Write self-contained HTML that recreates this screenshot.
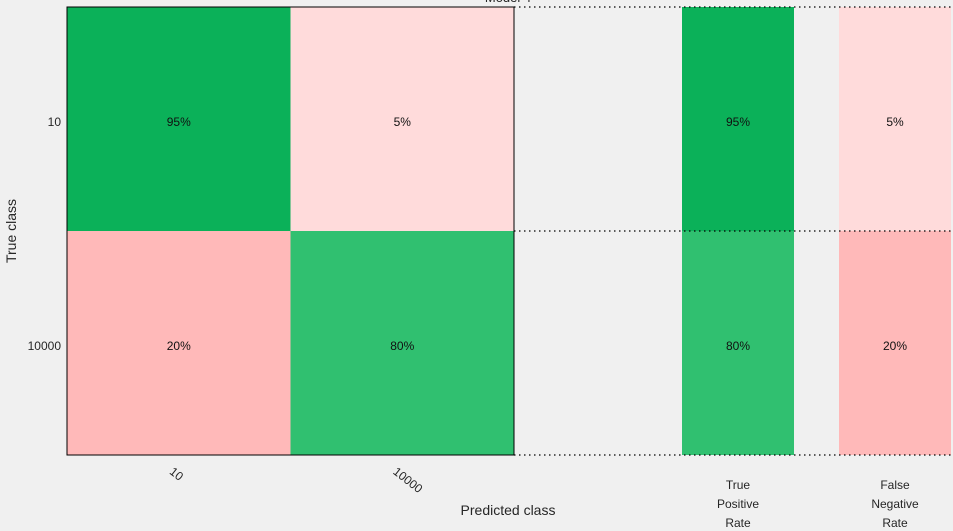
<!DOCTYPE html>
<html><head><meta charset="utf-8"><style>
body{margin:0;background:#f0f0f0;}
svg{display:block;font-family:"Liberation Sans",Arial,sans-serif;}
</style></head><body>
<svg width="953" height="531" viewBox="0 0 953 531">
<rect width="953" height="531" fill="#f0f0f0"/>
<g id="g"></g>
<text x="508" y="2" text-anchor="middle" font-size="13" fill="#222">Model 4</text>
<text x="508" y="515" text-anchor="middle" font-size="14" fill="#262626">Predicted class</text>
<text transform="translate(16,231) rotate(-90)" text-anchor="middle" font-size="14" fill="#262626">True class</text>
<text x="738" y="489" text-anchor="middle" font-size="12" fill="#262626"><tspan x="738">True</tspan><tspan x="738" dy="19">Positive</tspan><tspan x="738" dy="19">Rate</tspan></text>
<text x="895" y="489" text-anchor="middle" font-size="12" fill="#262626"><tspan x="895">False</tspan><tspan x="895" dy="19">Negative</tspan><tspan x="895" dy="19">Rate</tspan></text>
</svg>
<script>
const classes=["10","10000"];
const matrix=[[95,5],[20,80]];
const tpr=[95,80];
const fnr=[5,20];
const NS="http://www.w3.org/2000/svg";
const g=document.getElementById('g');
const X0=67,Y0=7,CW=223.5,CH=224;
function el(t,a){const e=document.createElementNS(NS,t);for(const k in a)e.setAttribute(k,a[k]);g.appendChild(e);return e;}
function cl(x){return Math.max(0,Math.min(255,Math.round(x)));}
function col(v,diag){
  if(diag){const u=(v-80)/15;return `rgb(${cl(48-37*u)},${cl(192-15*u)},${cl(112-23*u)})`;}
  const c=cl(230-2.27*v);return `rgb(255,${c},${c})`;
}
function cell(x,y,w,h,v,diag,name){
  const r=el('rect',{x:x,y:y,width:w,height:h,fill:col(v,diag)});
  
  
  const t=el('text',{x:x+w/2,y:y+h/2+7,'text-anchor':'middle','font-size':12,fill:'#111'});
  t.textContent=v+'%';
  
  
}
for(let i=0;i<2;i++)for(let j=0;j<2;j++)cell(X0+j*CW,Y0+i*CH,CW,CH,matrix[i][j],i===j,'cell-'+i+'-'+j);
for(let i=0;i<2;i++){cell(682,Y0+i*CH,112,CH,tpr[i],true,'tpr-'+i);cell(839,Y0+i*CH,112,CH,fnr[i],false,'fnr-'+i);}
const fr=el('rect',{x:X0,y:Y0,width:2*CW,height:2*CH,fill:'none',stroke:'#000','stroke-width':1});


for(let i=0;i<3;i++){
  const l=el('line',{x1:X0+2*CW,x2:953,y1:Y0+i*CH,y2:Y0+i*CH,stroke:'#000','stroke-dasharray':'1.5,3.5','stroke-width':1.2});
  
  
}
classes.forEach((c,i)=>{
  const t=el('text',{x:61,y:Y0+i*CH+CH/2+7,'text-anchor':'end','font-size':12,fill:'#262626'});
  t.textContent=c;
  
  
  const cx=X0+i*CW+CW/2-10;
  const t2=el('text',{x:0,y:0,transform:`translate(${cx},${473}) rotate(38)`,'font-size':12,fill:'#262626'});
  t2.textContent=c;
  
  
});
</script>
</body></html>
